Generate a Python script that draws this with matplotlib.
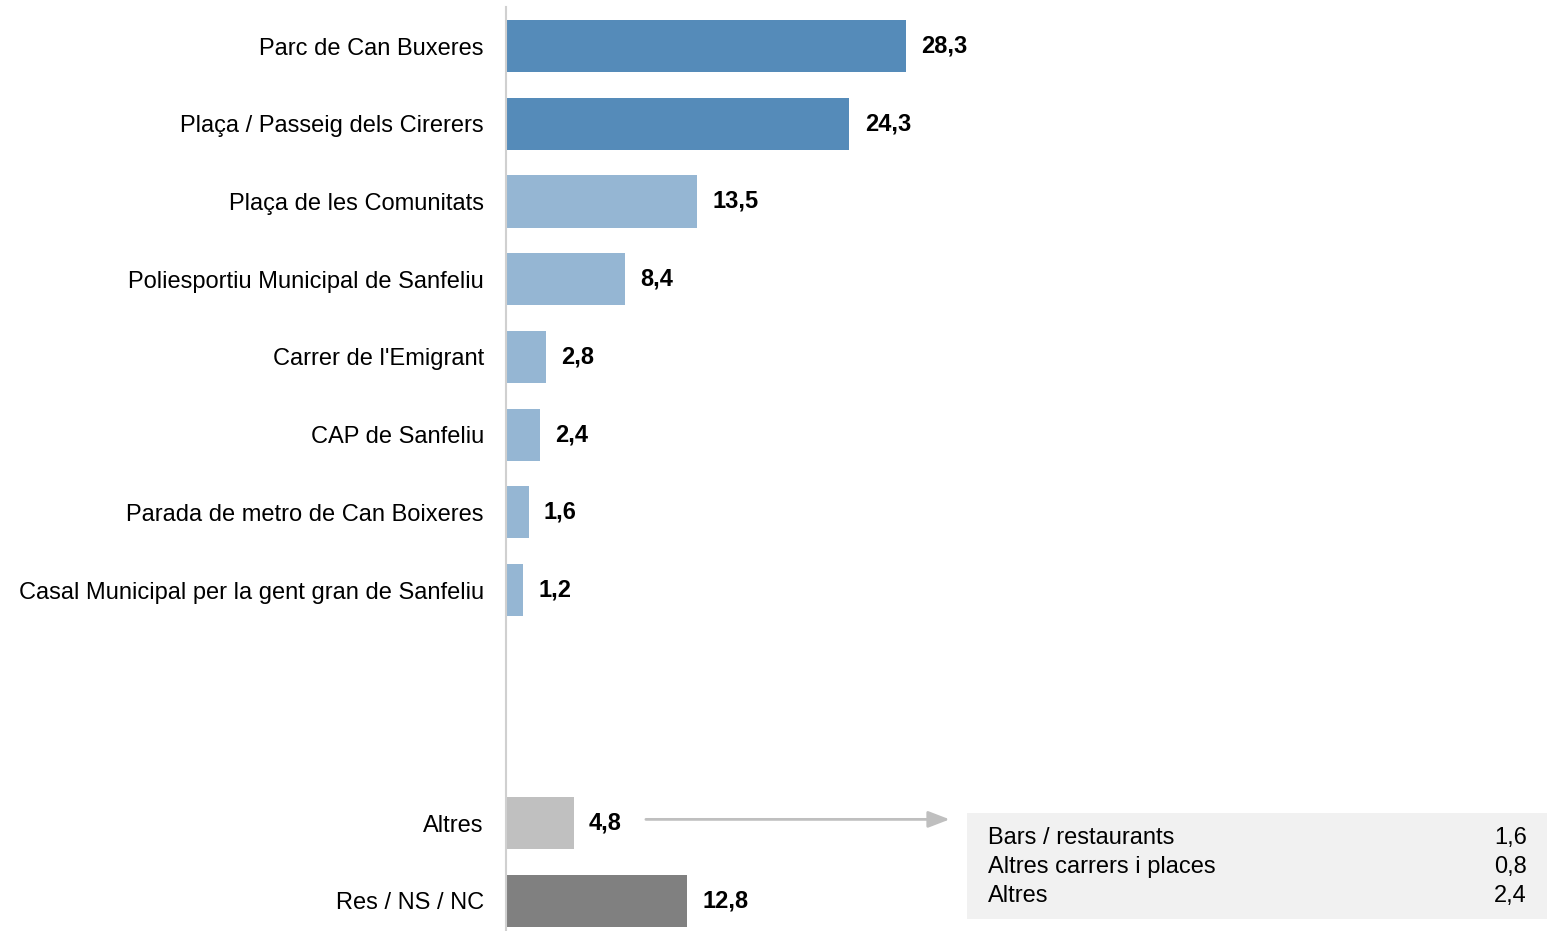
import matplotlib
matplotlib.use('Agg')
import matplotlib.pyplot as plt
from matplotlib.patches import Rectangle

plt.rcParams['font.family'] = ['Liberation Sans', 'DejaVu Sans']

# data
labels = ['Parc de Can Buxeres', 'Plaça / Passeig dels Cirerers', 'Plaça de les Comunitats',
          'Poliesportiu Municipal de Sanfeliu', "Carrer de l'Emigrant", 'CAP de Sanfeliu',
          'Parada de metro de Can Boixeres', 'Casal Municipal per la gent gran de Sanfeliu',
          'Altres', 'Res / NS / NC']
values = [28.3, 24.3, 13.5, 8.4, 2.8, 2.4, 1.6, 1.2, 4.8, 12.8]
positions = [0, 1, 2, 3, 4, 5, 6, 7, 10, 11]
colors = ['#558bb9', '#558bb9'] + ['#95b6d3'] * 6 + ['#c0c0c0', '#808080']

detail_labels = ['Bars / restaurants', 'Altres carrers i places', 'Altres']
detail_values = [1.6, 0.8, 2.4]

def fmt(v):
    return ('%.1f' % v).replace('.', ',')

W, H = 1554, 931
FS = 17
fig = plt.figure(figsize=(W / 100, H / 100), dpi=100)
ax = fig.add_axes([506 / W, 0, 1 - 506 / W, 1 - 7 / H])

ax.barh(positions, values, height=0.67, color=colors, zorder=2)
ax.set_xlim(0, 1048 / 14.13)
ax.set_ylim(11.386, -0.502)

for sp in ['top', 'right', 'bottom']:
    ax.spines[sp].set_visible(False)
ax.spines['left'].set_color('#d0d0d0')
ax.spines['left'].set_linewidth(1.5)
ax.set_xticks([])
ax.set_yticks(positions)
ax.set_yticklabels(labels, fontsize=FS)
ax.tick_params(axis='y', length=0, pad=16)

for p, v in zip(positions, values):
    ax.annotate(fmt(v), (v, p), xytext=(11, 0), textcoords='offset points',
                ha='left', va='center', fontsize=FS, fontweight='bold')

# arrow from "Altres" to detail box
alt_v = values[8]
ax.annotate('', xy=(alt_v + 26.6, 9.95), xytext=(alt_v + 5.1, 9.95),
            arrowprops=dict(arrowstyle='-|>,head_length=1.3,head_width=0.5',
                            color='#bfbfbf', lw=2, shrinkA=0, shrinkB=0))

# detail box
fig.patches.append(Rectangle((967 / W, 12 / H), 580 / W, 106 / H,
                             transform=fig.transFigure, facecolor='#f1f1f1',
                             edgecolor='none'))
for i, (lab, v) in enumerate(zip(detail_labels, detail_values)):
    y = 1 - (838 + 29 * i) / H
    fig.text(988 / W, y, lab, ha='left', va='center', fontsize=FS)
    fig.text(1527 / W, y, fmt(v), ha='right', va='center', fontsize=FS)

fig.savefig('out.png', dpi=100)
